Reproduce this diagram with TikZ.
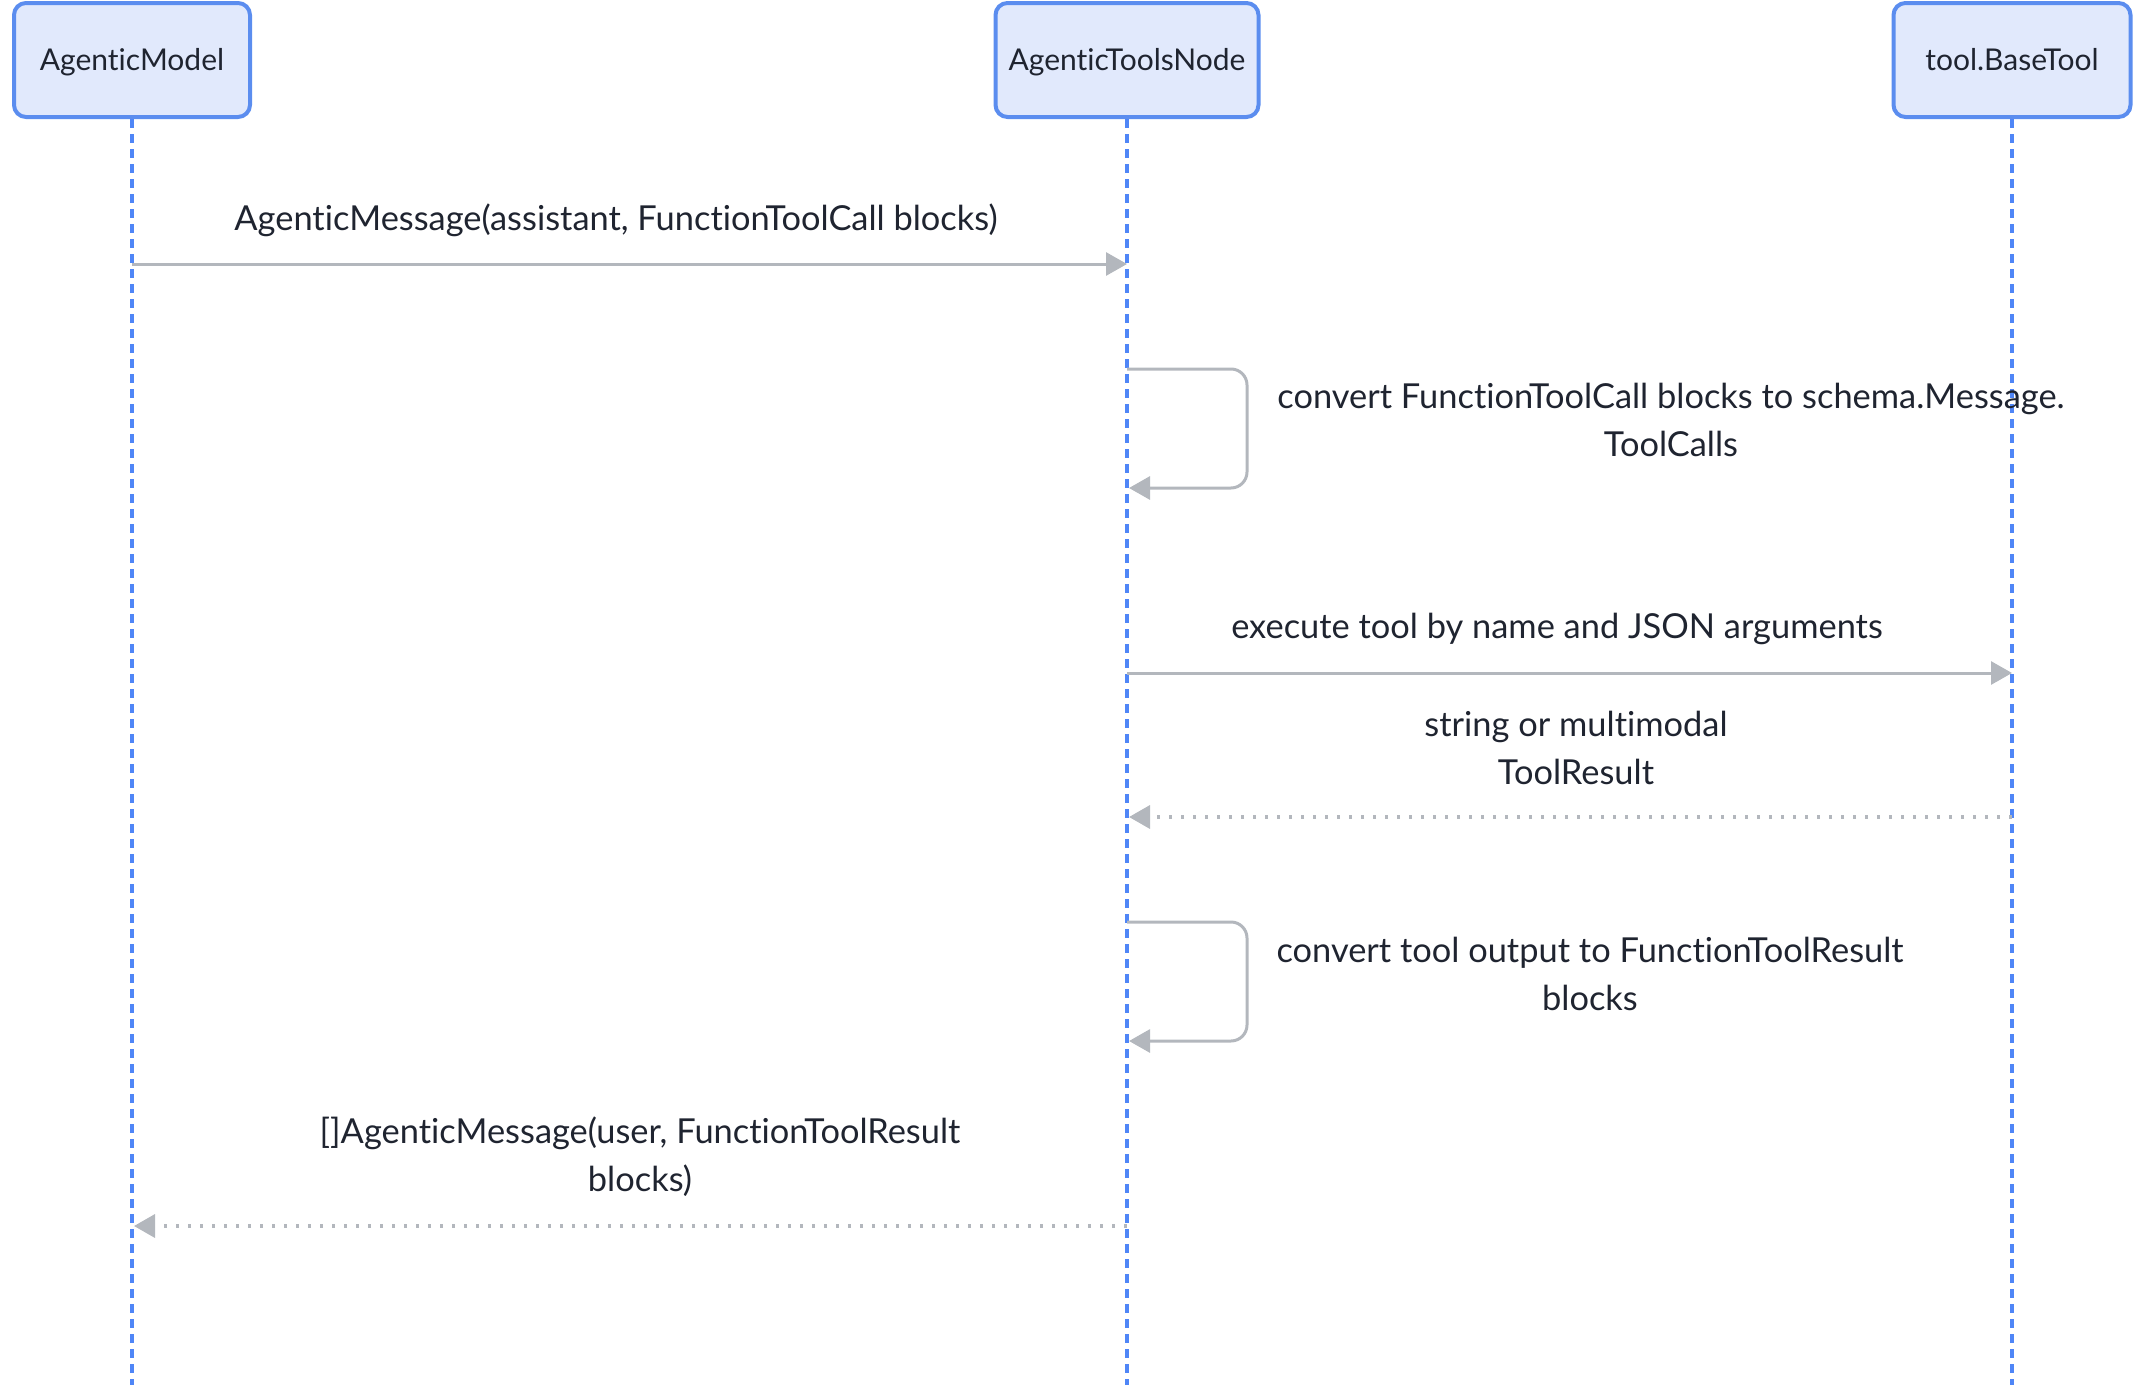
\documentclass[tikz,border=0pt]{standalone}
\usepackage{fontspec}
\setmainfont{Lato}[Ligatures={NoCommon}]
\usetikzlibrary{arrows.meta}
\definecolor{boxfill}{HTML}{E1E9FC}
\definecolor{boxdraw}{HTML}{5B8DEF}
\definecolor{lifecol}{HTML}{4F86F7}
\definecolor{msggray}{HTML}{B3B7BD}
\definecolor{txt}{HTML}{1F2430}
\tikzset{
  actor/.style={draw=boxdraw, fill=boxfill, line width=2pt, rounded corners=6pt, minimum height=57pt, text=txt, font=\fontsize{15}{17}\selectfont, inner sep=0pt, text height=10.8pt, text depth=0pt},
  lifeline/.style={draw=lifecol, line width=1.75pt, dash pattern=on 4.5pt off 3pt},
  msg/.style={draw=msggray, line width=1.5pt, -{Triangle[length=10.5pt,width=11.5pt]}},
  reply/.style={msg, line width=1.75pt, dash pattern=on 1.75pt off 4.25pt},
  lbl/.style={text=txt, font=\fontsize{17.2}{24}\selectfont, align=center, inner sep=0pt}
}
\begin{document}
\begin{tikzpicture}[x=0.5pt,y=-0.5pt]
\useasboundingbox (0,0) rectangle (2144,1392);
% actors
\node[actor, minimum width=118pt] (am) at (132,60) {AgenticModel};
\node[actor, minimum width=131.5pt] (atn) at (1127,60) {AgenticToolsNode};
\node[actor, minimum width=118.5pt] (bt) at (2012,60) {tool.BaseTool};
% lifeline ends
\coordinate (amE) at (132,1385);
\coordinate (atnE) at (1127,1385);
\coordinate (btE) at (2012,1385);
\draw[lifeline] (am.south) -- (amE);
\draw[lifeline] (atn.south) -- (atnE);
\draw[lifeline] (bt.south) -- (btE);
% message 1
\coordinate (m1s) at (132,264);
\coordinate (m1e) at (1127,264);
\draw[msg] (m1s) -- (m1e);
\node[lbl] (l1) at (616,220) {AgenticMessage(assistant, FunctionToolCall blocks)};
% self loop 1
\coordinate (s1a) at (1127,369);
\coordinate (s1b) at (1247,369);
\coordinate (s1c) at (1247,488);
\coordinate (s1d) at (1129,488);
\draw[msg, rounded corners=8pt] (s1a) -- (s1b) -- (s1c) -- (s1d);
\node[lbl] (l2) at (1671,420) {convert FunctionToolCall blocks to schema.Message.\\ToolCalls};
% message 3
\coordinate (m3s) at (1127,673);
\coordinate (m3e) at (2012,673);
\draw[msg] (m3s) -- (m3e);
\node[lbl] (l3) at (1557,629) {execute tool by name and JSON arguments};
% reply 4
\coordinate (r4s) at (2012,817);
\coordinate (r4e) at (1129,817);
\draw[reply] (r4s) -- (r4e);
\node[lbl] (l4) at (1576,748) {string or multimodal\\ToolResult};
% self loop 2
\coordinate (s2a) at (1127,922);
\coordinate (s2b) at (1247,922);
\coordinate (s2c) at (1247,1041);
\coordinate (s2d) at (1129,1041);
\draw[msg, rounded corners=8pt] (s2a) -- (s2b) -- (s2c) -- (s2d);
\node[lbl] (l5) at (1590,974) {convert tool output to FunctionToolResult\\blocks};
% reply 5
\coordinate (r5s) at (1127,1226);
\coordinate (r5e) at (134,1226);
\draw[reply] (r5s) -- (r5e);
\node[lbl] (l6) at (640,1157) {[]AgenticMessage(user, FunctionToolResult\\blocks)};
\end{tikzpicture}
\end{document}
